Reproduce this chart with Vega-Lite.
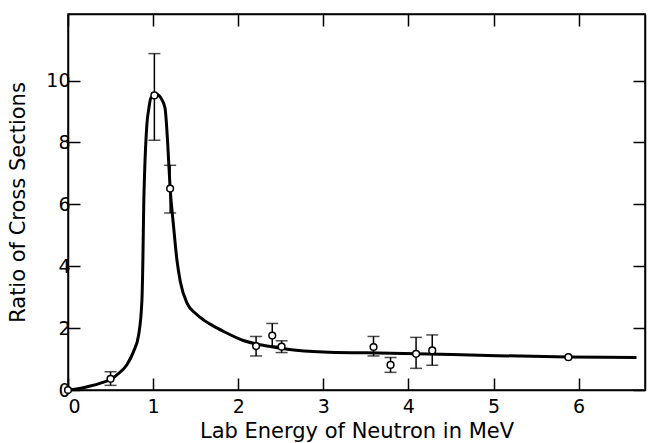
{
  "$schema": "https://vega.github.io/schema/vega-lite/v6.json",
  "autosize": "none",
  "width": 577,
  "height": 376,
  "padding": {"left": 68, "top": 14, "right": 4, "bottom": 53},
  "background": "white",
  "config": {
    "view": {"stroke": "black", "strokeWidth": 1.5},
    "axis": {
      "domainColor": "black", "domainWidth": 1.5,
      "tickColor": "black", "tickWidth": 1.5, "tickSize": -12,
      "grid": false,
      "labelFont": "DejaVu Sans", "labelFontSize": 19, "labelColor": "black",
      "titleFont": "DejaVu Sans", "titleFontSize": 21, "titleFontWeight": "normal", "titleColor": "black"
    }
  },
  "datasets": {
    "curve": [
      {"x": 0, "y": 0}, {"x": 0.1, "y": 0.03}, {"x": 0.25, "y": 0.12}, {"x": 0.4, "y": 0.24},
      {"x": 0.5, "y": 0.34}, {"x": 0.575, "y": 0.49}, {"x": 0.69, "y": 0.81}, {"x": 0.77, "y": 1.24},
      {"x": 0.83, "y": 1.78}, {"x": 0.868, "y": 2.86}, {"x": 0.88, "y": 4.2}, {"x": 0.89, "y": 6.0},
      {"x": 0.90, "y": 7.0}, {"x": 0.927, "y": 8.58}, {"x": 0.95, "y": 9.1}, {"x": 0.974, "y": 9.44},
      {"x": 1.04, "y": 9.55}, {"x": 1.10, "y": 9.4}, {"x": 1.14, "y": 9.11}, {"x": 1.17, "y": 8.04},
      {"x": 1.20, "y": 6.52}, {"x": 1.24, "y": 5.3}, {"x": 1.28, "y": 4.2}, {"x": 1.32, "y": 3.5},
      {"x": 1.40, "y": 2.8}, {"x": 1.5, "y": 2.47}, {"x": 1.6, "y": 2.25}, {"x": 1.7, "y": 2.08},
      {"x": 1.83, "y": 1.89}, {"x": 2.06, "y": 1.6}, {"x": 2.34, "y": 1.42}, {"x": 2.6, "y": 1.31},
      {"x": 3.0, "y": 1.23}, {"x": 3.5, "y": 1.20}, {"x": 4.09, "y": 1.17}, {"x": 5.04, "y": 1.11},
      {"x": 5.88, "y": 1.07}, {"x": 6.68, "y": 1.05}
    ],
    "pts": [
      {"x": 0, "y": 0},
      {"x": 0.5, "y": 0.36, "lo": 0.15, "hi": 0.59},
      {"x": 1.015, "y": 9.52, "lo": 8.07, "hi": 10.87},
      {"x": 1.2, "y": 6.51, "lo": 5.72, "hi": 7.26},
      {"x": 2.21, "y": 1.42, "lo": 1.1, "hi": 1.73},
      {"x": 2.4, "y": 1.76, "lo": 1.42, "hi": 2.15},
      {"x": 2.51, "y": 1.4, "lo": 1.21, "hi": 1.59},
      {"x": 3.59, "y": 1.39, "lo": 1.1, "hi": 1.73},
      {"x": 3.79, "y": 0.81, "lo": 0.57, "hi": 1.05},
      {"x": 4.09, "y": 1.17, "lo": 0.7, "hi": 1.7},
      {"x": 4.28, "y": 1.28, "lo": 0.8, "hi": 1.78},
      {"x": 5.88, "y": 1.06}
    ]
  },
  "resolve": {"axis": {"x": "independent", "y": "independent"}},
  "layer": [
    {
      "data": {"name": "curve"},
      "mark": {"type": "line", "interpolate": "monotone", "color": "black", "strokeWidth": 3},
      "encoding": {
        "x": {"field": "x", "type": "quantitative", "scale": {"domain": [0, 6.78], "nice": false},
              "axis": {"orient": "bottom", "values": [0, 1, 2, 3, 4, 5, 6], "labelPadding": 19, "title": "Lab Energy of Neutron in MeV", "titlePadding": 4}},
        "y": {"field": "y", "type": "quantitative", "scale": {"domain": [0, 12.15], "nice": false},
              "axis": {"orient": "left", "values": [0, 2, 4, 6, 8, 10], "labelPadding": 10, "title": "Ratio of Cross Sections", "titlePadding": 17}}
      }
    },
    {
      "data": {"name": "pts"},
      "mark": {"type": "rule", "color": "black", "strokeWidth": 1.5},
      "encoding": {
        "x": {"field": "x", "type": "quantitative", "axis": null},
        "y": {"field": "lo", "type": "quantitative", "axis": null},
        "y2": {"field": "hi"}
      }
    },
    {
      "data": {"name": "pts"},
      "mark": {"type": "tick", "orient": "horizontal", "color": "black", "size": 12, "thickness": 1.5},
      "encoding": {
        "x": {"field": "x", "type": "quantitative", "axis": null},
        "y": {"field": "lo", "type": "quantitative", "axis": null}
      }
    },
    {
      "data": {"name": "pts"},
      "mark": {"type": "tick", "orient": "horizontal", "color": "black", "size": 12, "thickness": 1.5},
      "encoding": {
        "x": {"field": "x", "type": "quantitative", "axis": null},
        "y": {"field": "hi", "type": "quantitative", "axis": null}
      }
    },
    {
      "data": {"name": "pts"},
      "mark": {"type": "point", "shape": "circle", "filled": false, "fill": "white", "fillOpacity": 1, "stroke": "black", "strokeWidth": 1.5, "size": 45, "opacity": 1},
      "encoding": {
        "x": {"field": "x", "type": "quantitative",
              "axis": {"orient": "top", "values": [0, 1, 2, 3, 4, 5, 6], "labels": false, "title": null}},
        "y": {"field": "y", "type": "quantitative",
              "axis": {"orient": "right", "values": [0, 2, 4, 6, 8, 10], "labels": false, "title": null}}
      }
    }
  ]
}
